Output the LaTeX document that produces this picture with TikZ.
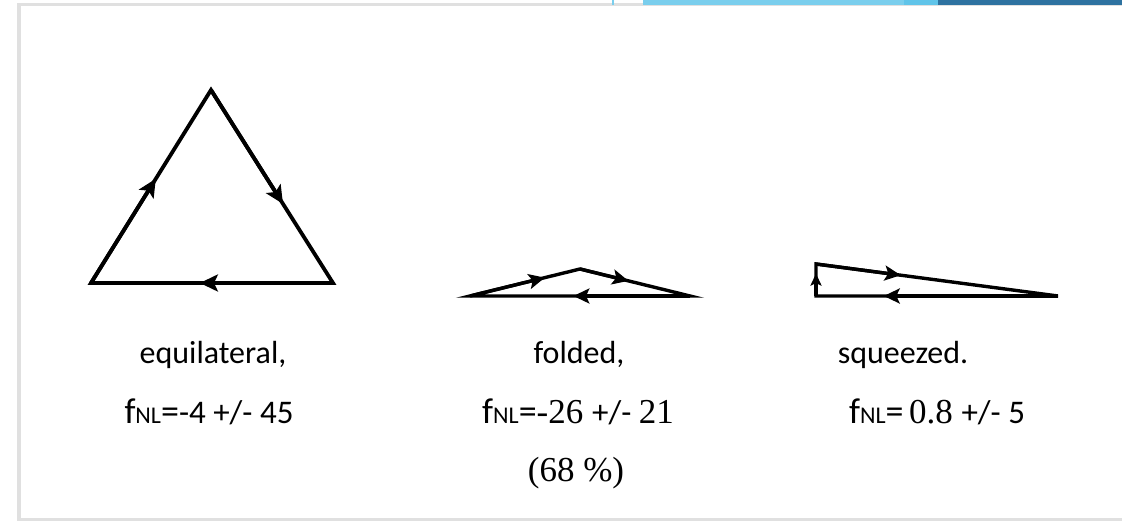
\documentclass[tikz,border=0pt]{standalone}
\usepackage{fontspec}
\setmainfont{Carlito}
\newfontfamily\serifnum{Liberation Serif}
\usetikzlibrary{arrows.meta,calc}

\definecolor{barlight}{RGB}{122,206,237}
\definecolor{barmid}{RGB}{96,196,233}
\definecolor{bardark}{RGB}{46,114,160}

\newcommand{\fnl}{{\fontsize{36}{36}\selectfont f}{\fontsize{24}{24}\selectfont NL}{\fontsize{36}{36}\selectfont =}}
\newcommand{\sernum}[1]{{\fontsize{35}{35}\selectfont\serifnum #1}}

\begin{document}
\begin{tikzpicture}[x=1pt,y=-1pt,
  side/.style={draw=black,line width=3.8pt,line join=miter},
  thinside/.style={draw=black,line width=3.4pt,line join=miter},
  half/.style={draw=black,line width=3.8pt,
    -{Stealth[length=18pt,width=17pt,inset=4pt]}},
  thinhalf/.style={draw=black,line width=3.4pt,
    -{Stealth[length=16pt,width=15pt,inset=3.5pt]}},
  shorthalf/.style={draw=black,line width=3.4pt,
    -{Stealth[length=12pt,width=11pt,inset=2.5pt]}},
  label/.style={anchor=base,font=\fontsize{32}{32}\selectfont,inner sep=0pt},
  value/.style={anchor=base,font=\fontsize{33}{33}\selectfont,inner sep=0pt}]

\useasboundingbox (0,0) rectangle (1122,521);

% slide frame
\fill[black!12] (17,3) rectangle (1122,521);
\fill[white] (21,6) rectangle (1122,518);
\fill[barlight] (612,0) rectangle (614,5);
\fill[barlight] (643,0) rectangle (904,5);
\fill[barmid] (904,0) rectangle (938,5);
\fill[bardark] (938,0) rectangle (1122,5);

% equilateral
\coordinate (eqbl) at (91,283);
\coordinate (eqtop) at (211,90);
\coordinate (eqbr) at (333,283);
\draw[side] (eqbl) -- (eqtop) -- (eqbr) -- cycle;
\draw[half] (eqbl) -- ($(eqbl)!0.54!(eqtop)$);
\draw[half] (eqtop) -- ($(eqtop)!0.59!(eqbr)$);
\draw[half] (eqbr) -- ($(eqbr)!0.55!(eqbl)$);

% folded
\coordinate (fol) at (470,296);
\coordinate (fotop) at (580,269);
\coordinate (for) at (690,296);
\draw[thinside] (fol) -- (fotop) -- (for) -- cycle;
\draw[thinhalf] (fol) -- ($(fol)!0.68!(fotop)$);
\draw[thinhalf] (fotop) -- ($(fotop)!0.44!(for)$);
\draw[thinhalf] (for) -- ($(for)!0.53!(fol)$);

% squeezed
\coordinate (sqbl) at (816,296);
\coordinate (sqtl) at (816,264);
\coordinate (sqr) at (1058,296);
\draw[thinside] (sqr) -- (sqbl) -- (sqtl) -- cycle;
\draw[shorthalf] (sqbl) -- ($(sqbl)!0.70!(sqtl)$);
\draw[thinhalf] (sqtl) -- ($(sqtl)!0.35!(sqr)$);
\draw[thinhalf] (sqr) -- ($(sqr)!0.72!(sqbl)$);

% labels
\node[label] (eqname) at (213,363) {equilateral,};
\node[label] (foname) at (579,363) {folded,};
\node[label] (sqname) at (903,363) {squeezed.};

\node[value] (eqval) at (209,423) {\fnl -4 +/- 45};
\node[value] (foval) at (578,423) {\fnl\sernum{-26 }+/- \sernum{21}};
\node[value,font=\fontsize{35}{35}\selectfont\serifnum] (foconf) at (576,481) {(68 \%)};
\node[value] (sqval) at (937,423) {\fnl\,\sernum{0.8 }+/- 5};
\end{tikzpicture}
\end{document}
